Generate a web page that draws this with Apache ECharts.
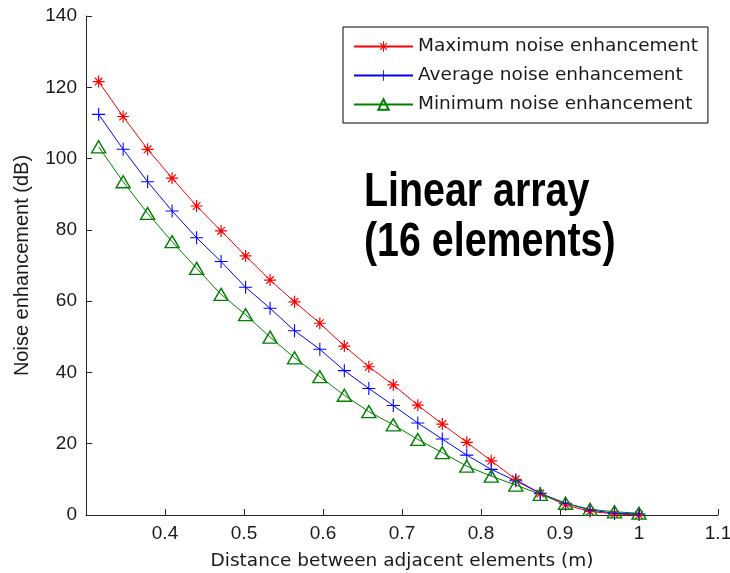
<!DOCTYPE html>
<html>
<head>
<meta charset="utf-8">
<script src="https://cdn.jsdelivr.net/npm/echarts@6/dist/echarts.min.js"></script>
<style>
html,body{margin:0;padding:0;background:#fff;}
#chart{width:730px;height:573px;}
</style>
</head>
<body>
<div id="chart"></div>
<script>
// Data
var xValues = [0.316, 0.347, 0.378, 0.409, 0.440, 0.471, 0.502, 0.533, 0.564, 0.596, 0.627, 0.658,
               0.689, 0.720, 0.751, 0.782, 0.813, 0.844, 0.875, 0.907, 0.938, 0.969, 1.000];
var maxNoise = [121.6, 111.8, 102.6, 94.5, 86.7, 79.7, 72.7, 65.9, 59.8, 53.8, 47.4, 41.6,
                36.5, 30.8, 25.5, 20.4, 15.2, 10.0, 6.0, 2.8, 1.0, 0.3, 0.0];
var avgNoise = [112.4, 102.6, 93.5, 85.3, 77.8, 71.1, 63.9, 58.0, 51.7, 46.5, 40.5, 35.5,
                30.7, 25.8, 21.3, 16.8, 12.8, 9.6, 6.1, 3.3, 1.4, 0.5, 0.3];
var minNoise = [103.3, 93.5, 84.6, 76.7, 69.2, 61.9, 56.2, 49.9, 44.1, 38.8, 33.6, 29.0,
                25.3, 21.2, 17.5, 13.7, 10.9, 8.4, 5.8, 3.3, 1.6, 0.9, 0.5];
var seriesNames = ['Maximum noise enhancement', 'Average noise enhancement', 'Minimum noise enhancement'];
var xTicks = [0.4, 0.5, 0.6, 0.7, 0.8, 0.9, 1.0, 1.1];
var yTicks = [0, 20, 40, 60, 80, 100, 120, 140];
var annotationLines = ['Linear array', '(16 elements)'];
var xTitle = 'Distance between adjacent elements (m)';
var yTitle = 'Noise enhancement (dB)';

function pairs(ys) { return xValues.map(function (x, i) { return [x, ys[i]]; }); }

var asterisk = 'path://M0 10.8H24V13.2H0Z M10.8 0H13.2V24H10.8Z ' +
  'M3.5 5.2L5.2 3.5L20.5 18.8L18.8 20.5Z M18.8 3.5L20.5 5.2L5.2 20.5L3.5 18.8Z';
var plus = 'path://M0 11H24V13H0Z M11 0H13V24H11Z';

var labelFont = 'Liberation Sans, Arial, sans-serif';
var axisColor = '#262626';
var annotFont = 'bold 48px "Liberation Sans", Arial, sans-serif';

var chart = echarts.init(document.getElementById('chart'), null, {renderer: 'canvas'});
chart.setOption({
  animation: false,
  backgroundColor: '#ffffff',
  grid: {left: 86, right: 12, top: 16, bottom: 58, containLabel: false, outerBoundsMode: 'none'},
  legend: {
    orient: 'vertical',
    left: 343, top: 27,
    padding: [10, 10, 9, 10],
    itemWidth: 59, itemHeight: 13, itemGap: 10,
    borderColor: '#000', borderWidth: 1,
    backgroundColor: '#fff',
    data: seriesNames,
    textStyle: {fontFamily: 'DejaVu Sans, sans-serif', fontSize: 18.5, color: '#1a1a1a', lineHeight: 18}
  },
  xAxis: {
    type: 'value', min: 0.3, max: 1.1, interval: 0.1,
    name: xTitle, nameLocation: 'middle', nameGap: 37,
    nameTextStyle: {fontFamily: 'DejaVu Sans, sans-serif', fontSize: 18.5, color: '#1a1a1a'},
    axisLine: {show: true, onZero: false, lineStyle: {color: axisColor, width: 1}},
    axisTick: {show: true, inside: true, length: 6, lineStyle: {color: axisColor}},
    splitLine: {show: false},
    axisLabel: {
      margin: 9, color: '#1a1a1a', fontFamily: labelFont, fontSize: 19,
      formatter: function (v) {
        for (var i = 0; i < xTicks.length; i++) {
          if (Math.abs(v - xTicks[i]) < 1e-6) return String(xTicks[i]);
        }
        return '';
      }
    }
  },
  yAxis: {
    type: 'value', min: 0, max: 140, interval: 20,
    name: yTitle, nameLocation: 'middle', nameGap: 54,
    nameTextStyle: {fontFamily: labelFont, fontSize: 20, color: '#1a1a1a'},
    axisLine: {show: true, lineStyle: {color: axisColor, width: 1}},
    axisTick: {show: true, inside: true, length: 6, lineStyle: {color: axisColor}},
    splitLine: {show: false},
    axisLabel: {
      margin: 9, color: '#1a1a1a', fontFamily: labelFont, fontSize: 19,
      formatter: function (v) {
        for (var i = 0; i < yTicks.length; i++) {
          if (Math.abs(v - yTicks[i]) < 1e-6) return String(yTicks[i]);
        }
        return '';
      }
    }
  },
  series: [
    {
      name: seriesNames[0], type: 'line', data: pairs(maxNoise),
      symbol: asterisk, symbolSize: 12,
      lineStyle: {color: '#ff0000', width: 1},
      itemStyle: {color: '#ff0000'}
    },
    {
      name: seriesNames[1], type: 'line', data: pairs(avgNoise),
      symbol: plus, symbolSize: 13,
      lineStyle: {color: '#0000ff', width: 1},
      itemStyle: {color: '#0000ff'}
    },
    {
      name: seriesNames[2], type: 'line', data: pairs(minNoise),
      symbol: 'triangle', symbolSize: [14, 12],
      lineStyle: {color: '#008000', width: 1},
      itemStyle: {color: 'rgba(255,255,255,0)', borderColor: '#008000', borderWidth: 1.4}
    }
  ],
  graphic: [
    {type: 'text', x: 364, y: 169, scaleX: 0.82, scaleY: 1,
     style: {x: 0, y: 0, text: annotationLines[0], font: annotFont, fill: '#000', verticalAlign: 'top', align: 'left'}},
    {type: 'text', x: 364, y: 219, scaleX: 0.82, scaleY: 1,
     style: {x: 0, y: 0, text: annotationLines[1], font: annotFont, fill: '#000', verticalAlign: 'top', align: 'left'}}
  ]
});
</script>
</body>
</html>
